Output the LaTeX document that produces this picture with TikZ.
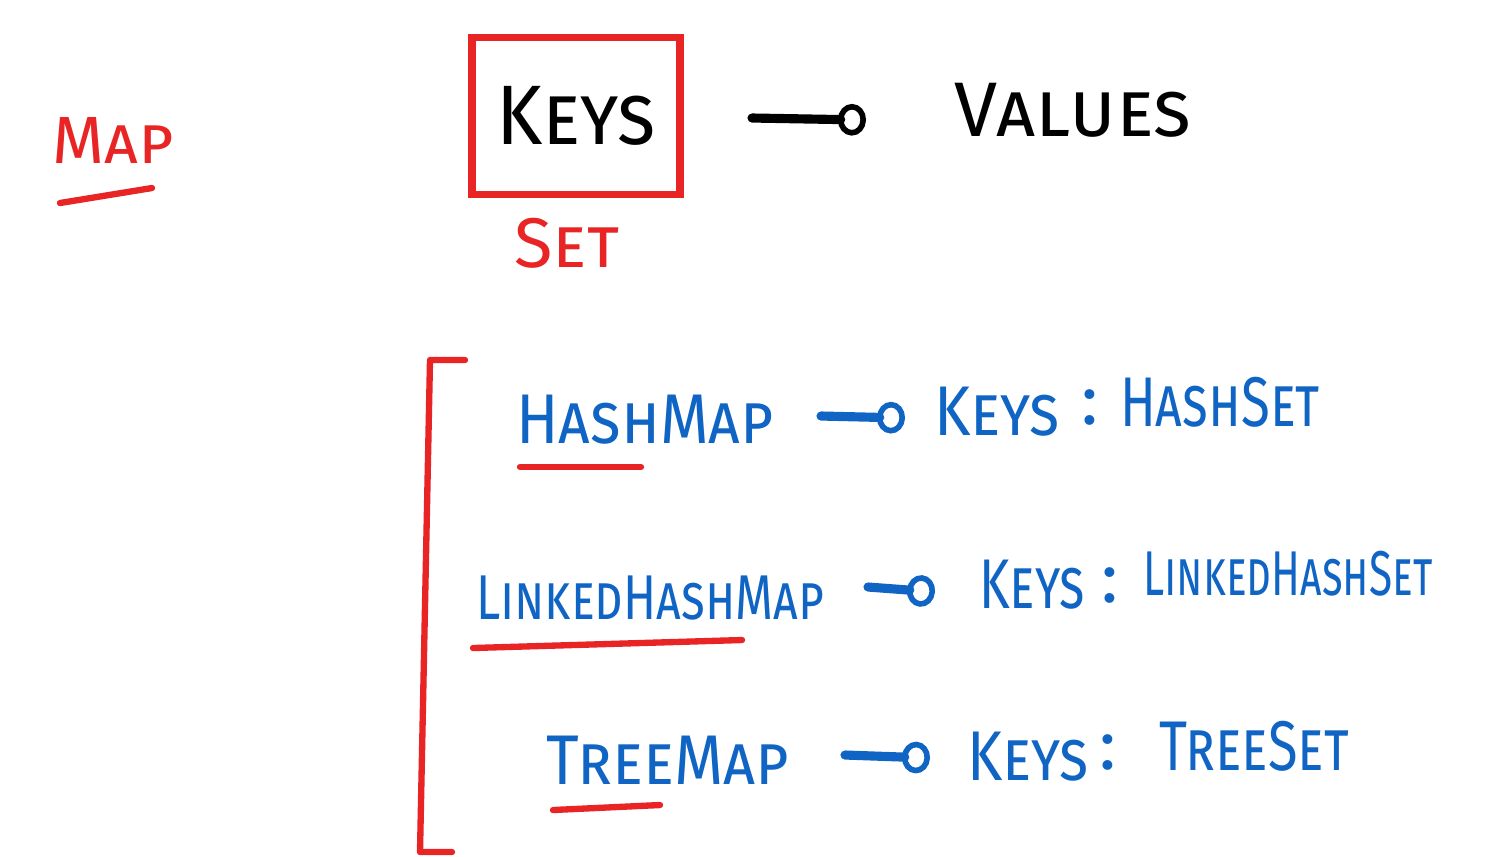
\documentclass[tikz,border=0pt]{standalone}
\usepackage{graphicx}
\usepackage{fontspec}
\setmainfont{Fira Sans}
\usetikzlibrary{arrows.meta}

\definecolor{penred}{RGB}{232,36,36}
\definecolor{penblue}{RGB}{16,100,196}

\newcommand{\handsqueeze}[2]{\scalebox{#1}[1]{#2}}

\tikzset{
  hand/.style={font=\scshape\fontsize{#1}{#1}\selectfont, inner sep=0pt},
  redline/.style={draw=penred, line width=1.8pt, line cap=round, line join=round},
  pointer/.style={line width=2.6pt, line cap=round, -{Circle[open,length=8pt,width=9pt,line width=1.6pt]}},
}

\begin{document}
\begin{tikzpicture}[x=0.01cm, y=-0.01cm]
  \useasboundingbox (0,0) rectangle (1512,856);

  % top: map = keys -> values
  \node[hand=19, text=penred] (map) at (113,140) {Map};
  \draw[redline] (60,203) -- (152,188);

  \node[hand=24, draw=penred, line width=2.2pt, minimum width=2.08cm, minimum height=1.57cm] (keys) at (576,116) {\handsqueeze{0.93}{Keys}};
  \node[hand=20, text=penred] (set) at (567,243) {Set};
  \coordinate (p0s) at (752,118);
  \coordinate (p0e) at (866,120);
  \draw[pointer] (p0s) -- (p0e);
  \node[hand=22] (values) at (1073,110) {Values};

  % bracket
  \draw[redline] (465,360) -- (430,360) -- (420,852) -- (452,852);

  % hashmap
  \node[hand=20, text=penblue] (hm) at (645,420) {\handsqueeze{0.89}{HashMap}};
  \draw[redline] (520,467) -- (641,467);
  \coordinate (p1s) at (821,416);
  \coordinate (p1e) at (905,418);
  \draw[pointer, draw=penblue] (p1s) -- (p1e);
  \node[hand=20, text=penblue] (k1) at (997,412) {\handsqueeze{0.88}{Keys}};
  \node[hand=20, text=penblue] (c1) at (1090,407) {:};
  \node[hand=20, text=penblue] (s1) at (1220,402) {\handsqueeze{0.75}{HashSet}};

  % linkedhashmap
  \node[hand=18, text=penblue] (lhm) at (650,598) {\handsqueeze{0.77}{LinkedHashMap}};
  \draw[redline] (473,648) -- (742,640);
  \coordinate (p2s) at (868,587);
  \coordinate (p2e) at (935,592);
  \draw[pointer, draw=penblue] (p2s) -- (p2e);
  \node[hand=20, text=penblue] (k2) at (1032,585) {\handsqueeze{0.74}{Keys}};
  \node[hand=20, text=penblue] (c2) at (1110,585) {:};
  \node[hand=18, text=penblue] (s2) at (1288,574) {\handsqueeze{0.67}{LinkedHashSet}};

  % treemap
  \node[hand=20, text=penblue] (tm) at (668,760) {\handsqueeze{0.9}{TreeMap}};
  \draw[redline] (553,810) -- (660,805);
  \coordinate (p3s) at (845,755);
  \coordinate (p3e) at (930,758);
  \draw[pointer, draw=penblue] (p3s) -- (p3e);
  \node[hand=20, text=penblue] (k3) at (1028,757) {\handsqueeze{0.85}{Keys}};
  \node[hand=20, text=penblue] (c3) at (1108,752) {:};
  \node[hand=20, text=penblue] (s3) at (1254,746) {\handsqueeze{0.77}{TreeSet}};
\end{tikzpicture}
\end{document}
